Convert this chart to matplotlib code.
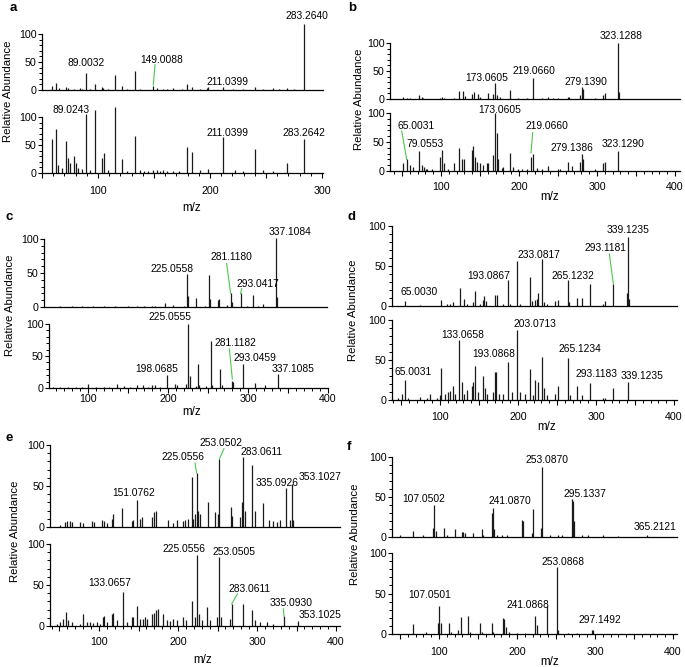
import matplotlib
matplotlib.use("Agg")
import matplotlib.pyplot as plt
from matplotlib.ticker import MultipleLocator, FuncFormatter

plt.rcParams['font.family'] = ['Liberation Sans', 'DejaVu Sans']

W, H = 685, 667

# ---------------- data (m/z, relative abundance) ----------------
# panel a
a_top_mz = [58.6, 62.2, 65.5, 71.1, 72.9, 78.6, 83.9, 86, 89.3, 92.9, 97.3, 103.3, 104.8, 109.2, 115.2,
            121.4, 125.6, 133.0, 137.5, 149.4, 152.4, 158.3, 162, 167.3, 174.7, 179.2, 183.6, 191, 197.0,
            198.5, 211.3, 220.8, 229.8, 240.2, 247.6, 256.5, 262, 269.0, 275, 284.2]
a_top_int = [7, 13, 3, 5, 3, 1.5, 3, 2, 31, 1, 11, 5, 3, 1.5, 27, 7, 1, 34, 1.5, 7, 3, 2, 1.5, 3, 2,
             11, 5, 1, 3, 5, 6, 1.5, 1.5, 5, 1.5, 3, 1, 4, 1.5, 117]
a_bot_mz = [58.6, 62.2, 64.6, 67.6, 71.1, 72.9, 75.0, 78.6, 80.4, 82.4, 85.4, 89.3, 92.9, 97.3, 103.3,
            105.4, 109.2, 115.2, 121.4, 125.6, 133.0, 137.5, 141, 145, 149.4, 152.4, 155, 158.3, 162,
            167.3, 172, 179.2, 183.6, 191.0, 198.5, 211.3, 222.3, 229.8, 240.2, 247.6, 256.5, 269.0, 284.2]
a_bot_int = [60, 79, 15, 9, 57, 26, 18, 31, 18, 9, 7, 105, 6, 112, 26, 35, 6, 118, 25, 3, 66, 5, 4, 3,
             5, 6, 4, 5, 4, 3, 4, 47, 37, 5, 7, 64, 5, 3, 42, 6, 3, 18, 61]

# panel b
b_top_mz = [50.9, 56, 60.3, 71.8, 75.2, 77.4, 98.7, 100.9, 103.8, 116.7, 123.5, 128.6, 130.8, 139.3,
            142.7, 147.0, 150, 159.8, 167.0, 169.6, 172.2, 175.6, 188.5, 199.1, 209.8, 217.5, 229.1,
            237.6, 244, 250.4, 263.2, 264.5, 278.2, 280.3, 282.5, 297.4, 308.1, 310.3, 326.5, 328.6]
b_top_int = [4, 2, 2, 7, 4, 2, 2, 3, 2, 1.5, 15, 15, 6, 9, 13, 9, 4, 10, 9, 28, 8, 3, 16, 2, 2, 37, 2,
             4, 2, 2, 3, 3, 7, 21, 17, 2, 7, 10, 100, 13]
b_bot_mz = [50.9, 56, 60.3, 63.7, 71.8, 75.2, 78.2, 80.8, 82.5, 88, 98.7, 100.9, 103.8, 109.4, 116.7,
            123.5, 126.5, 129.9, 139.3, 141.5, 143.6, 145.7, 150, 154.3, 158.5, 160.6, 167.0, 169.6,
            171.4, 173.5, 177.8, 179.9, 188.5, 192.7, 199.1, 203.4, 209.8, 215.4, 217.5, 222.7, 229.1,
            237.6, 250.4, 252.6, 263.2, 267.5, 278.2, 280.3, 282.5, 297.4, 308.1, 310.3, 326.5]
b_bot_int = [13, 20, 10, 7, 35, 10, 7, 4, 4, 4, 24, 37, 13, 4, 14, 39, 21, 21, 36, 43, 24, 16, 13, 11,
             13, 13, 27, 100, 65, 21, 5, 7, 31, 7, 4, 4, 4, 24, 30, 5, 4, 9, 4, 4, 16, 9, 15, 29, 21,
             4, 13, 16, 35]

# panel c
c_top_mz = [65, 80, 92.1, 106.7, 120, 133.75, 150, 160.8, 170, 179.6, 183.75, 196.25, 206.7, 220,
            223.3, 225.4, 235, 246, 250.8, 252.1, 262.9, 264.2, 274, 278.3, 280.4, 290.8, 298.3,
            306.7, 312.9, 319.2, 335, 336.7]
c_top_int = [1, 1, 2, 2, 1, 2, 1, 2, 1, 2, 2, 6, 3, 2, 48, 16, 13, 2, 47, 12, 10, 12, 3, 20, 8, 20, 2,
             17, 2, 4, 102, 15]
c_bot_mz = [56.7, 65, 75, 85, 92.1, 100.4, 110, 120, 126, 135.8, 145, 152, 160.8, 169.2, 175, 179.6,
            183.75, 190, 198.3, 208.75, 210.8, 222.5, 225.4, 227.5, 235, 237.9, 239.2, 248, 253.3,
            255, 265, 267.1, 280.4, 281.7, 293.3, 308.75, 321.25, 337.9]
c_bot_int = [2, 2, 2, 2, 2, 7, 2, 2, 2, 7, 3, 2, 4, 5, 2, 4, 4, 2, 21, 7, 5, 6, 100, 18, 3, 38, 5, 3,
             74, 5, 29, 4, 11, 9, 37, 8, 5, 22]

# panel d
d_top_mz = [55.1, 74.4, 100.9, 108.5, 112.8, 117.1, 125.6, 130.8, 134.2, 142.7, 144.9, 151.3, 154.7,
            156.4, 159, 170.5, 172.6, 181.2, 187.6, 189.7, 199.1, 202.6, 215.4, 217.5, 221.8, 223.9,
            226, 230.3, 233.3, 236.8, 247.4, 251.7, 263.7, 265.8, 276.1, 281.6, 292.3, 309.4, 311.5,
            322.2, 340.2, 341.5, 342.7]
d_top_int = [6, 1.5, 7, 2, 3, 5, 22, 9, 3, 5, 19, 3, 7, 13, 6, 14, 14, 3, 33, 2, 56, 3, 36, 6, 7, 9,
             16, 59, 5, 3, 6, 7, 32, 5, 10, 10, 27, 3, 6, 28, 16, 86, 9]
d_bot_mz = [46.6, 51.7, 55.1, 59.4, 74.4, 82.9, 87.2, 95.7, 100, 100.9, 106.4, 110.7, 112.8, 117.1,
            119.2, 124.8, 127.8, 130.8, 134.2, 140.6, 142.7, 144.9, 149.1, 154.7, 157.7, 159.8, 168.4,
            170.5, 171.8, 176.1, 181.2, 187.6, 191.9, 199.1, 202.6, 209, 215.4, 219.7, 221.8, 226,
            230.3, 233.3, 236.8, 247.4, 251.7, 263.7, 266.7, 276.1, 281.6, 292.3, 309.4, 311.5, 322.2,
            341.5]
d_bot_int = [3, 7, 25, 3, 4, 2, 8, 3, 6, 40, 8, 10, 11, 18, 8, 75, 23, 8, 12, 17, 23, 43, 10, 30, 15,
             8, 10, 35, 35, 8, 8, 47, 10, 87, 10, 8, 39, 6, 25, 23, 54, 15, 6, 8, 17, 53, 6, 17, 6,
             21, 3, 3, 15, 22]

# panel e
e_top_mz = [50.6, 57, 59.1, 63.3, 65.4, 75.9, 79.3, 90.7, 93.7, 103.4, 106.3, 109.7, 116, 118.1,
            128.7, 141.3, 143.5, 147.7, 151.9, 154, 166.7, 169.6, 172.2, 187.8, 194.1, 198.3, 206.8,
            208.9, 213.1, 217.3, 219.4, 221.5, 223.6, 225.7, 227.8, 238.4, 246.8, 251.1, 252.3,
            266.7, 268.8, 278.5, 280.6, 282.7, 284.8, 293.3, 297.5, 308, 315.6, 320.7, 324.9, 329.1,
            336.7, 341.8, 343.9, 346]
e_top_int = [2, 6, 7, 7, 6, 6, 5, 7, 6, 8, 7, 5, 10, 16, 23, 7, 8, 33, 10, 12, 12, 18, 19, 8, 5, 8, 7,
             8, 10, 61, 10, 16, 66, 20, 16, 31, 18, 16, 83, 25, 14, 12, 31, 85, 20, 76, 20, 29, 8, 7,
             6, 8, 47, 8, 53, 8]
e_bot_mz = [46.4, 50.6, 54.9, 57.8, 61.2, 65.4, 75.9, 79.3, 85.2, 88.6, 92.8, 97, 101.3, 104.6, 106.8,
            109.7, 116, 118.1, 122.4, 130.8, 135, 141.3, 143.5, 147.7, 151.9, 156.1, 158.2, 160.3,
            166.7, 169.6, 172.2, 175.1, 181.4, 185.7, 189.9, 194.1, 198.3, 206.8, 210.1, 217.3,
            221.5, 223.6, 226.6, 230, 237.1, 240.5, 249, 251.9, 254, 265.8, 267.9, 281.9, 293.3,
            297.5, 303.8, 312.2, 320.7, 334.2, 351.5]
e_bot_int = [3, 5, 9, 17, 7, 5, 3, 15, 5, 5, 4, 5, 3, 11, 12, 5, 15, 16, 7, 41, 5, 11, 11, 24, 8, 9,
             11, 9, 15, 16, 19, 21, 15, 7, 6, 9, 7, 11, 7, 30, 11, 86, 15, 7, 23, 7, 11, 84, 11, 9,
             27, 27, 19, 7, 5, 5, 3, 12, 6]

# panel f
f_top_mz = [50, 67, 79.9, 92.7, 94, 96.2, 106.4, 109.8, 120.5, 129.1, 131.2, 133.3, 144, 154.7, 156.8,
            167.5, 168.8, 170.5, 173.9, 180.3, 186.8, 206, 208.1, 218.8, 220.1, 230.3, 231.6, 242.3,
            253, 257.3, 270.1, 272.2, 273.5, 282.9, 291.4, 310.7, 330, 366.2]
f_top_int = [2, 7, 2, 11, 40, 8, 11, 3, 10, 6, 6, 5, 5, 10, 3, 30, 36, 10, 3, 2, 2, 21, 20, 5, 35, 11,
             87, 2, 3, 2, 47, 45, 20, 3, 2, 2, 1.5, 3]
f_bot_mz = [67, 83.3, 99.1, 100.4, 102.1, 113.2, 115, 124.8, 127.8, 137.6, 139.7, 152.6, 154.7, 167.6,
            169.7, 182.5, 183.8, 185.5, 190, 200, 210, 223.1, 226, 238.9, 250.9, 253, 265, 276.5,
            295.7, 297]
f_bot_int = [12, 3, 14, 35, 14, 13, 3, 5, 21, 22, 3, 14, 3, 14, 3, 20, 18, 9, 2, 1.5, 1.5, 22, 11, 35,
             83, 5, 1.5, 1.5, 5, 5]

# ---------------- peak labels: (text, x, y, optional leader x1, y1, x2, y2) ----------------
a_top_notes = [("89.0032", 89.3, 49), ("149.0088", 157, 54, (150.9, 45, 149.4, 9)),
               ("211.0399", 216, 15), ("283.2640", 287, 132)]
a_bot_notes = [("89.0243", 76, 113), ("211.0399", 216, 70.6), ("283.2642", 284, 70.6)]
b_top_notes = [("173.0605", 158.6, 36.7), ("219.0660", 219, 50), ("279.1390", 286, 31),
               ("323.1288", 331, 112)]
b_bot_notes = [("173.0605", 175.6, 106), ("65.0031", 68, 77, (49.6, 69, 56, 20)),
               ("79.0553", 79.5, 46), ("219.0660", 235.5, 77, (217.5, 66, 215.4, 31)),
               ("279.1386", 267.5, 39), ("323.1290", 333, 46.5)]
c_top_notes = [("225.0558", 204.6, 55.7), ("281.1180", 278.7, 74, (273.3, 64, 278.3, 20)),
               ("293.0417", 312.9, 34.5, (292.1, 27, 290.8, 20)), ("337.1084", 352, 110)]
c_bot_notes = [("225.0555", 203, 111.5), ("198.0685", 186, 29),
               ("281.1182", 284, 71, (276.7, 61, 280.4, 14)), ("293.0459", 309, 47.6),
               ("337.1085", 356, 30)]
d_top_notes = [("65.0030", 73.1, 17.7), ("193.0867", 162, 37.4), ("233.0817", 226.9, 64),
               ("265.1232", 270.9, 37.4), ("293.1181", 312.4, 72, (317.1, 65, 322.2, 28)),
               ("339.1235", 341.5, 95)]
d_bot_notes = [("65.0031", 65, 34.6), ("133.0658", 129.1, 81), ("193.0868", 168.4, 57),
               ("203.0713", 221.8, 94.6), ("265.1234", 279.5, 64), ("293.1183", 300.9, 33),
               ("339.1235", 358.5, 30)]
e_top_notes = [("225.0556", 206.8, 85, (221.5, 78, 223.6, 66)),
               ("253.0502", 255, 102, (258.2, 95.5, 252.3, 83)), ("283.0611", 306, 92),
               ("151.0762", 143.5, 41), ("335.0926", 324.9, 54), ("353.1027", 380, 61.5)]
e_bot_notes = [("133.0657", 113.2, 53), ("225.0556", 208.1, 94), ("253.0505", 271.2, 90),
               ("283.0611", 290.8, 45, (275.1, 39, 267.9, 27)),
               ("335.0930", 342.6, 28, (333.3, 21, 334.2, 12)), ("353.1025", 380, 14)]
f_top_notes = [("107.0502", 79.9, 47.5), ("241.0870", 191, 44.6), ("253.0870", 238, 96),
               ("295.1337", 287.2, 54), ("365.2121", 376.9, 12.5)]
f_bot_notes = [("107.0501", 87.6, 48), ("241.0868", 214.5, 36), ("253.0868", 259.4, 89),
               ("297.1492", 305.6, 17)]

# ---------------- layout (pixel positions in the 685x667 canvas) ----------------
panels = [
    dict(letter='a', letter_xy=(10, 8), ylab_xy=(8, 91), mz_xy=(192, 208), pad=5.5,
         top=(42, 323, 90, 34, (50, 300.9), a_top_mz, a_top_int, a_top_notes),
         bot=(42, 323, 173, 117, (50, 300.9), a_bot_mz, a_bot_int, a_bot_notes)),
    dict(letter='b', letter_xy=(348, 8), ylab_xy=(359, 99), mz_xy=(550, 197), pad=4.3,
         top=(390, 680, 99, 43, (34.6, 406.4), b_top_mz, b_top_int, b_top_notes),
         bot=(390, 680, 171, 113, (34.6, 406.4), b_bot_mz, b_bot_int, b_bot_notes)),
    dict(letter='c', letter_xy=(5, 217), ylab_xy=(10, 305), mz_xy=(192, 412), pad=1.0,
         top=(44, 327, 307, 239, (45, 398.75), c_top_mz, c_top_int, c_top_notes),
         bot=(49, 328, 388, 324, (51.25, 400), c_bot_mz, c_bot_int, c_bot_notes)),
    dict(letter='d', letter_xy=(347, 217), ylab_xy=(353, 310), mz_xy=(547, 427), pad=5.0,
         top=(391.7, 677, 306, 226, (38.1, 403.8), d_top_mz, d_top_int, d_top_notes),
         bot=(391.7, 677, 400, 320, (38.1, 403.8), d_bot_mz, d_bot_int, d_bot_notes)),
    dict(letter='e', letter_xy=(5, 438), ylab_xy=(15, 531), mz_xy=(203, 660), pad=4.3,
         top=(50, 340, 527, 445, (38, 405), e_top_mz, e_top_int, e_top_notes),
         bot=(50, 340, 626, 544, (38, 405), e_bot_mz, e_bot_int, e_bot_notes)),
    dict(letter='f', letter_xy=(347, 447), ylab_xy=(355, 534), mz_xy=(550, 662), pad=5.8,
         top=(392.3, 676.7, 537, 457, (40.1, 404.7), f_top_mz, f_top_int, f_top_notes),
         bot=(392.3, 676.7, 634, 553, (40.1, 404.7), f_bot_mz, f_bot_int, f_bot_notes)),
]

BAR = '#1a1a1a'
GREEN = '#4cc84c'
FS = 7.4

fig = plt.figure(figsize=(W / 100, H / 100), dpi=100)


def spectrum(spec, is_bottom, pad):
    left, right, y0, y100, xlim, mz, inten, notes = spec
    ax = fig.add_axes([left / W, 1 - y0 / H, (right - left) / W, (y0 - y100) / H])
    ax.set_xlim(*xlim)
    ax.set_ylim(0, 100)
    ax.patch.set_alpha(0)
    for s in ['top', 'right']:
        ax.spines[s].set_visible(False)
    ax.spines['left'].set_bounds(0, 100)
    for s in ['left', 'bottom']:
        ax.spines[s].set_linewidth(0.9)

    ax.vlines(mz, 0, inten, colors=BAR, lw=0.9, clip_on=False, zorder=2)

    for n in notes:
        ax.text(n[1], n[2], n[0], ha='center', va='center', fontsize=FS, clip_on=False)
        if len(n) > 3:
            x1, y1, x2, y2 = n[3]
            ax.plot([x1, x2], [y1, y2], color=GREEN, lw=0.8, clip_on=False, zorder=3)

    ax.yaxis.set_major_locator(MultipleLocator(50))
    ax.yaxis.set_minor_locator(MultipleLocator(10))
    ax.tick_params(axis='y', which='major', length=3.2, width=0.8, pad=0.8, labelsize=FS + 0.3)
    ax.tick_params(axis='y', which='minor', length=2.0, width=0.7)

    if is_bottom:
        ax.xaxis.set_major_locator(MultipleLocator(50))
        ax.xaxis.set_minor_locator(MultipleLocator(10))
        ax.xaxis.set_major_formatter(FuncFormatter(lambda v, p: f'{v:.0f}' if v % 100 == 0 else ''))
        ax.tick_params(axis='x', which='major', length=3.5, width=0.8, pad=pad, labelsize=FS + 0.3)
        ax.tick_params(axis='x', which='minor', length=2.2, width=0.7)
    else:
        ax.set_xticks([])
    return ax


for p in panels:
    spectrum(p['top'], False, p['pad'])
    spectrum(p['bot'], True, p['pad'])
    lx, ly = p['letter_xy']
    fig.text(lx / W, 1 - ly / H, p['letter'], fontsize=9.5, fontweight='bold', ha='left', va='center')
    yx, yy = p['ylab_xy']
    fig.text(yx / W, 1 - yy / H, 'Relative Abundance', rotation=90, fontsize=8.2, ha='center', va='center')
    mx, my = p['mz_xy']
    fig.text(mx / W, 1 - my / H, 'm/z', fontsize=8.4, ha='center', va='center')

fig.savefig('out.png', dpi=100, facecolor='white')
